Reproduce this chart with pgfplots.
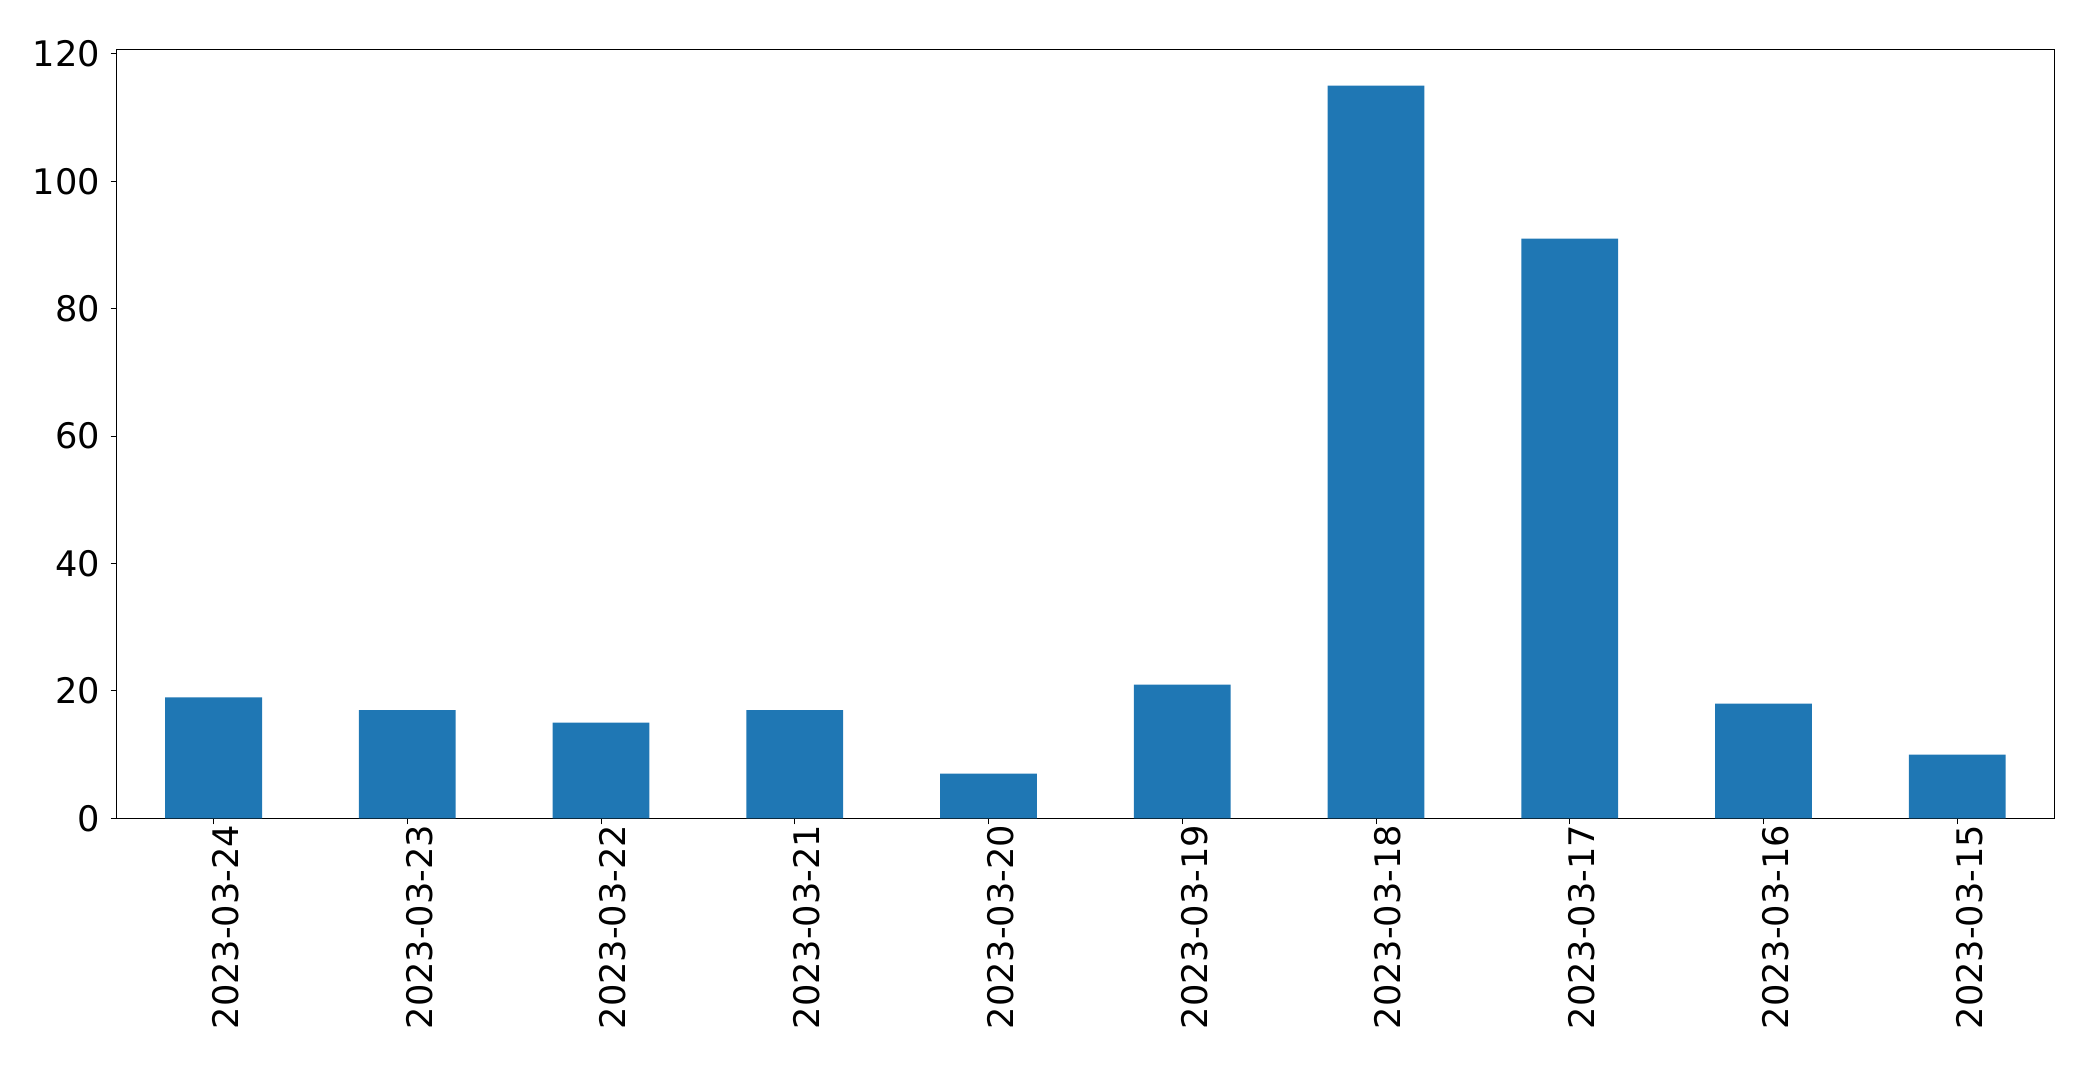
\documentclass[border=0pt]{standalone}
\usepackage{fontspec}
\setmainfont{DejaVu Sans}
\usepackage{pgfplots}
\pgfplotsset{compat=1.18}
\definecolor{mplblue}{HTML}{1F77B4}
\begin{document}
\fontsize{17.6}{21}\selectfont
\begin{tikzpicture}
\useasboundingbox (-58.35pt,-125.85pt) rectangle (988.15pt,409.15pt);
\begin{axis}[
  at={(0pt,0pt)}, anchor=south west,
  scale only axis,
  width=968.7pt, height=384.6pt,
  xmin=-0.5, xmax=9.5,
  ymin=0, ymax=120.75,
  xtick={0,...,9},
  xticklabels={2023-03-24,2023-03-23,2023-03-22,2023-03-21,2023-03-20,2023-03-19,2023-03-18,2023-03-17,2023-03-16,2023-03-15},
  ytick={0,20,40,60,80,100,120},
  /pgf/number format/assume math mode=true,
  tick align=outside,
  tick pos=left,
  major tick length=3pt,
  axis line style={line width=0.5pt},
  every tick/.style={black, line width=0.5pt},
  tick label style={font=\fontsize{17.6}{21}\selectfont, inner sep=0pt},
  xticklabel style={rotate=90, anchor=east},
  yticklabel style={anchor=east},
  x tick label style={yshift=-6pt},
  y tick label style={xshift=-5.2pt},
  scaled y ticks=false,
]
\addplot[ybar, bar width=0.5, fill=mplblue, draw=none, bar shift=0pt] coordinates {
(0,19) (1,17) (2,15) (3,17) (4,7) (5,21) (6,115) (7,91) (8,18) (9,10)
};
\end{axis}
\end{tikzpicture}
\end{document}
